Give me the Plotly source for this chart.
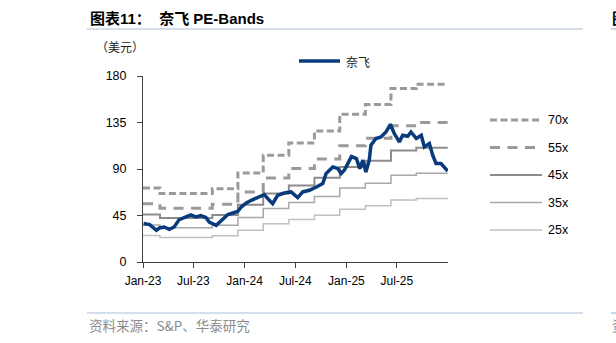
import plotly.graph_objects as go

# ---------------- data ----------------
price_dates = [
    "2023-01-03", "2023-01-25", "2023-02-18", "2023-03-01", "2023-03-18", "2023-04-05",
    "2023-04-23", "2023-05-11", "2023-05-29", "2023-06-22", "2023-07-10", "2023-07-28",
    "2023-08-15", "2023-08-27", "2023-09-21", "2023-10-09", "2023-11-02", "2023-11-20",
    "2023-12-08", "2023-12-20", "2024-01-07", "2024-01-25", "2024-02-24", "2024-03-12",
    "2024-03-30", "2024-04-11", "2024-04-29", "2024-05-23", "2024-06-16", "2024-07-10",
    "2024-07-28", "2024-08-21", "2024-09-15", "2024-10-08", "2024-10-20", "2024-11-13",
    "2024-12-01", "2024-12-13", "2024-12-25", "2025-01-19", "2025-02-06", "2025-02-18",
    "2025-03-01", "2025-03-12", "2025-03-24", "2025-03-30", "2025-04-17", "2025-05-05",
    "2025-05-23", "2025-06-08", "2025-06-22", "2025-07-10", "2025-07-22", "2025-08-09",
    "2025-08-21", "2025-09-09", "2025-09-27", "2025-10-08", "2025-10-26", "2025-11-07",
    "2025-11-19", "2025-12-07", "2025-12-31",
]
price_values = [
    37.2, 36.2, 30.7, 32.9, 33.9, 31.7,
    33.9, 41.0, 43.0, 45.5, 43.6, 44.9,
    43.0, 38.7, 35.5, 40.4, 45.9, 47.4,
    49.0, 53.2, 57.1, 59.7, 62.9, 65.2,
    59.7, 56.5, 64.6, 66.8, 67.8, 62.3,
    67.8, 69.4, 72.6, 75.9, 85.6, 92.0,
    90.4, 85.6, 89.0, 102.0, 100.0, 90.4,
    98.5, 87.1, 98.5, 113.0, 119.5, 121.0,
    125.8, 133.3, 124.3, 116.2, 122.7, 121.7,
    125.8, 119.5, 122.7, 111.3, 114.6, 103.3,
    95.3, 95.3, 88.1,
]

band_dates = ["2023-01-01", "2023-03-03", "2023-09-07", "2023-12-08", "2024-03-08",
              "2024-06-08", "2024-09-08", "2024-12-08", "2025-03-10", "2025-06-10",
              "2025-09-09", "2025-12-31"]
band_70x = [71.6, 66.2, 71.0, 86.2, 103.3, 115.2, 126.8, 143.0, 152.3, 167.8, 172.0, 172.0]
band_55x = [56.3, 52.0, 55.8, 67.7, 81.2, 90.5, 99.6, 112.4, 119.7, 131.8, 135.1, 135.1]
band_45x = [46.0, 42.6, 45.6, 55.4, 66.4, 74.1, 81.5, 91.9, 97.9, 107.9, 110.6, 110.6]
band_35x = [35.8, 33.1, 35.5, 43.1, 51.7, 57.6, 63.4, 71.5, 76.2, 83.9, 86.0, 86.0]
band_25x = [25.6, 23.7, 25.4, 30.8, 36.9, 41.2, 45.3, 51.1, 54.4, 59.9, 61.4, 61.4]

y_ticks = [0, 45, 90, 135, 180]
x_tick_vals = ["2023-01-01", "2023-07-01", "2024-01-01", "2024-07-01", "2025-01-01", "2025-07-01"]
x_tick_text = ["Jan-23", "Jul-23", "Jan-24", "Jul-24", "Jan-25", "Jul-25"]

series_name = "奈飞"
band_names = ["70x", "55x", "45x", "35x", "25x"]

# ---------------- styles ----------------
NAVY = "#083A7C"
band_styles = [
    dict(color="#9A9A9A", width=3, dash="7px,3.5px"),
    dict(color="#9A9A9A", width=3, dash="10px,7.5px"),
    dict(color="#8C8C8C", width=2, dash="solid"),
    dict(color="#A8A8A8", width=1.5, dash="solid"),
    dict(color="#C0C0C0", width=1.5, dash="solid"),
]
band_series = [band_70x, band_55x, band_45x, band_35x, band_25x]

W, H = 616, 343
ML, MR, MT, MB = 143, 168, 76, 81
PW, PH = W - ML - MR, H - MT - MB


def X(px):
    return (px - ML) / PW


def Y(py):
    return (H - MB - py) / PH


fig = go.Figure()

for name, vals, st in zip(band_names, band_series, band_styles):
    fig.add_trace(go.Scatter(
        x=band_dates, y=vals, mode="lines", name=name, line_shape="hv",
        line=dict(color=st["color"], width=st["width"], dash=st["dash"]),
        showlegend=False, hoverinfo="skip",
    ))

fig.add_trace(go.Scatter(
    x=price_dates, y=price_values, mode="lines", name=series_name,
    line=dict(color=NAVY, width=3.5), showlegend=False,
))

FONT_LAT = "Liberation Sans, Arial, Noto Sans CJK SC"
FONT_CJK = "Noto Sans CJK SC"

shapes = []
annotations = []

# title
annotations.append(dict(
    xref="paper", yref="paper", x=X(88), y=Y(18), xanchor="left", yanchor="middle",
    text="<b>图表11：  奈飞 PE-Bands</b>", showarrow=False,
    font=dict(family=FONT_LAT, size=15, color="#000000"),
))
# partial neighbouring title at right edge
annotations.append(dict(
    xref="paper", yref="paper", x=X(610), y=Y(18), xanchor="left", yanchor="middle",
    text="<b>图表12</b>", showarrow=False,
    font=dict(family=FONT_LAT, size=15, color="#000000"),
))
# header / footer rules
for y0 in (29, 313):
    shapes.append(dict(type="line", xref="paper", yref="paper",
                       x0=X(87), x1=X(583), y0=Y(y0), y1=Y(y0),
                       line=dict(color="#A9BFD8", width=1.2)))
    shapes.append(dict(type="line", xref="paper", yref="paper",
                       x0=X(611), x1=X(640), y0=Y(y0), y1=Y(y0),
                       line=dict(color="#A9BFD8", width=1.2)))

# unit label
annotations.append(dict(
    xref="paper", yref="paper", x=X(94), y=Y(47), xanchor="left", yanchor="middle",
    text="（美元）", showarrow=False,
    font=dict(family=FONT_CJK, size=12, color="#222222"),
))

# source
annotations.append(dict(
    xref="paper", yref="paper", x=X(87), y=Y(325), xanchor="left", yanchor="middle",
    text="资料来源：S&P、华泰研究", showarrow=False,
    font=dict(family=FONT_CJK, size=13.5, color="#8C8C8C"),
))
annotations.append(dict(
    xref="paper", yref="paper", x=X(610), y=Y(325), xanchor="left", yanchor="middle",
    text="资料来源", showarrow=False,
    font=dict(family=FONT_CJK, size=13.5, color="#8C8C8C"),
))

# top legend (price)
shapes.append(dict(type="line", xref="paper", yref="paper",
                   x0=X(299), x1=X(340), y0=Y(61), y1=Y(61),
                   line=dict(color=NAVY, width=3.5)))
annotations.append(dict(
    xref="paper", yref="paper", x=X(344), y=Y(61), xanchor="left", yanchor="middle",
    text=series_name, showarrow=False,
    font=dict(family=FONT_CJK, size=12, color="#222222"),
))

# right legend (bands)
legend_y = [120, 147.5, 175, 202.5, 230]
for name, st, ly in zip(band_names, band_styles, legend_y):
    shapes.append(dict(type="line", xref="paper", yref="paper",
                       x0=X(490), x1=X(542), y0=Y(ly), y1=Y(ly),
                       line=dict(color=st["color"], width=st["width"], dash=st["dash"])))
    annotations.append(dict(
        xref="paper", yref="paper", x=X(546), y=Y(ly), xanchor="left", yanchor="middle",
        text=name, showarrow=False,
        font=dict(family=FONT_LAT, size=12.5, color="#000000"),
    ))

fig.update_layout(
    width=W, height=H, autosize=False,
    margin=dict(l=ML, r=MR, t=MT, b=MB, pad=0),
    paper_bgcolor="#FFFFFF", plot_bgcolor="#FFFFFF",
    showlegend=False,
    shapes=shapes, annotations=annotations,
    font=dict(family=FONT_LAT, size=12, color="#000000"),
    xaxis=dict(
        type="date", range=["2023-01-01", "2026-01-01"],
        tickvals=x_tick_vals, ticktext=x_tick_text,
        showgrid=False, zeroline=False,
        showline=True, linecolor="#404040", linewidth=1,
        ticks="outside", ticklen=5, tickcolor="#404040", tickwidth=1,
        ticklabelstandoff=3,
        tickfont=dict(family=FONT_LAT, size=12, color="#000000"),
        fixedrange=True,
    ),
    yaxis=dict(
        range=[0, 180], tickvals=y_ticks,
        showgrid=False, zeroline=False,
        showline=True, linecolor="#404040", linewidth=1,
        ticks="outside", ticklen=5, tickcolor="#404040", tickwidth=1,
        ticklabelstandoff=8,
        tickfont=dict(family=FONT_LAT, size=12.5, color="#000000"),
        fixedrange=True,
    ),
)

fig.write_html("out.html", config={"displayModeBar": False})
